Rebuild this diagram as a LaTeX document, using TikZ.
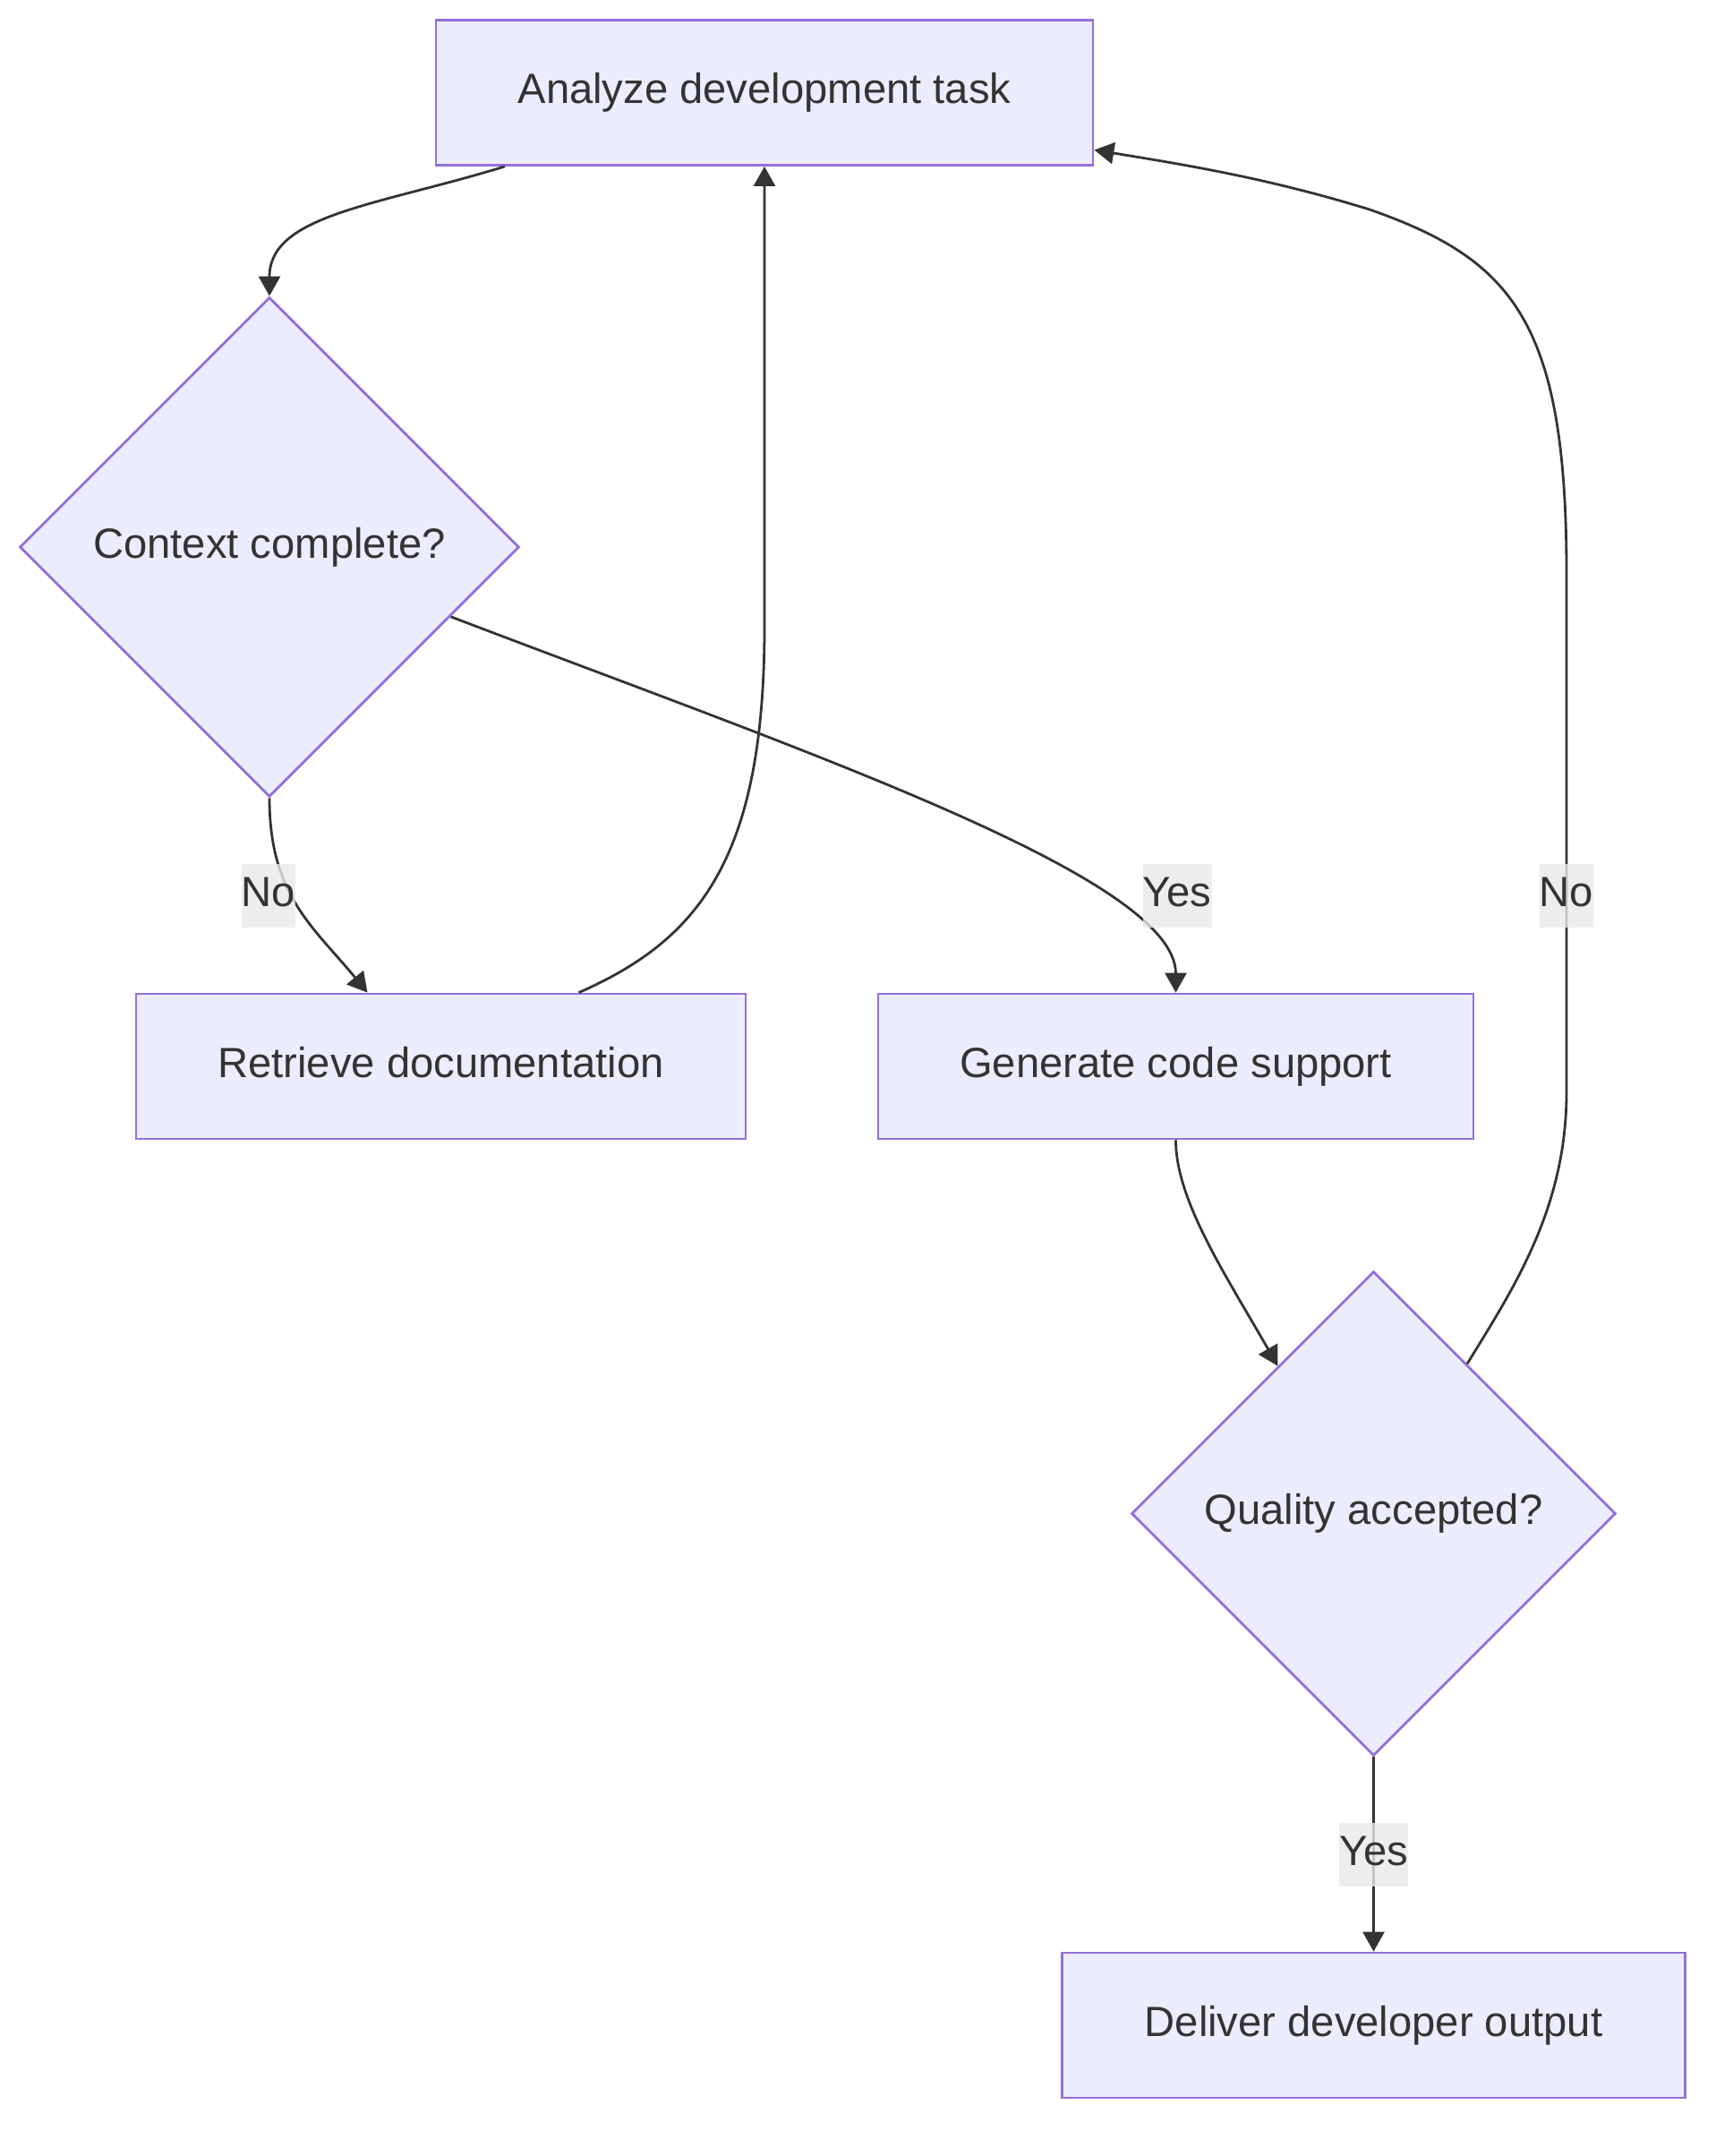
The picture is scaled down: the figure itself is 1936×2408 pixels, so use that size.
\documentclass[tikz,border=0pt]{standalone}
\usepackage{fontspec}
\setmainfont{Liberation Sans}
\usepackage{tikz}
\usepackage{xcolor}
\usetikzlibrary{arrows.meta}
\usetikzlibrary{shapes.geometric}

\definecolor{boxfill}{HTML}{ECECFF}
\definecolor{boxline}{HTML}{9370DB}
\definecolor{ink}{HTML}{333333}
\definecolor{lblfill}{HTML}{E8E8E8}

\begin{document}
\begin{tikzpicture}[x=0.5pt,y=-0.5pt,
every node/.style={font=\fontsize{23.6}{28}\selectfont,text=ink,text height=17pt,text depth=5pt},
proc/.style={draw=boxline,fill=boxfill,line width=1.4pt,minimum height=81pt,inner sep=0pt},
decide/.style={diamond,aspect=1,draw=boxline,fill=boxfill,line width=1.4pt,inner sep=0pt},
flow/.style={draw=ink,line width=1.4pt,-{Triangle[length=11pt,width=12pt]}},
lbl/.style={fill=lblfill,fill opacity=0.8,text opacity=1,inner sep=0pt,minimum height=35.5pt}]
\useasboundingbox (0,0) rectangle (1936,2408);
\node[proc,minimum width=367pt] (ana) at (854,103.5) {Analyze development task};
\node[decide,minimum width=279pt,minimum height=279pt] (ctx) at (301,611) {Context complete?};
\node[proc,minimum width=340.5pt] (ret) at (492.5,1191) {Retrieve documentation};
\node[proc,minimum width=332.5pt] (gen) at (1313.5,1191) {Generate code support};
\node[decide,minimum width=270.5pt,minimum height=270.5pt] (qa) at (1534.5,1690.5) {Quality accepted?};
\node[proc,minimum width=348pt] (del) at (1534.5,2262) {Deliver developer output};
\draw[flow] ([xshift=-145pt]ana.south) .. controls (420,230) and (301,240) .. (ctx.north);
\draw[flow] (ctx.south) .. controls (301,1000) and (350,1035) .. ([xshift=-41pt]ret.north) node[lbl] at (300,1000) {No};
\draw[flow] ([xshift=77pt]ret.north) .. controls (780,1050) and (854,960) .. (854,700) -- (ana.south);
\draw[flow] (ctx.-21) .. controls (900,840) and (1313.5,980) .. (gen.north) node[lbl] at (1315,1000) {Yes};
\draw[flow] (gen.south) .. controls (1313.5,1340) and (1368,1422) .. (qa.123);
\draw[flow] (qa.58) .. controls (1690,1440) and (1750,1350) .. (1750,1220) -- (1750,640) .. controls (1750,360) and (1690,290) .. (1530,234) .. controls (1420,200) and (1330,185) .. ([yshift=-32pt]ana.east) node[lbl] at (1750,1000) {No};
\draw[flow] (qa.south) -- (del.north) node[lbl] at (1534.5,2071) {Yes};
\end{tikzpicture}
\end{document}
